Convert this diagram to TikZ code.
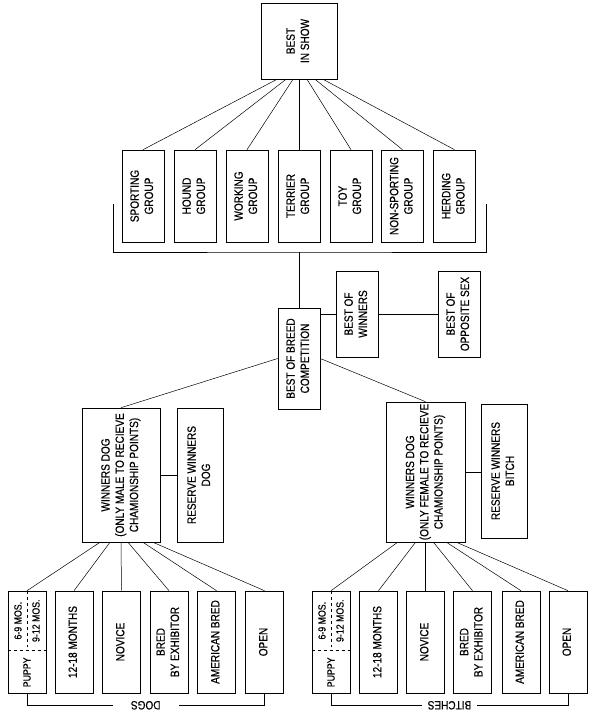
\documentclass[tikz,border=0pt]{standalone}
\usepackage{fontspec}
\setmainfont{Liberation Sans}[FakeStretch=0.84, FakeBold=0.5]
\usepackage{graphicx}
\usepackage{tikz}
\newcommand{\vt}[1]{\rotatebox{90}{\begin{tabular}{@{}c@{}}#1\end{tabular}}}

\begin{document}
\begin{tikzpicture}[x=1bp, y=-1bp,
    box/.style={draw, line width=0.6pt, inner sep=0pt, font=\fontsize{12}{14.3}\selectfont},
    grp/.style={box, minimum width=42bp, minimum height=92bp},
    cls/.style={box, minimum width=38bp, minimum height=102bp},
    sm/.style={inner sep=0pt, rotate=90, font=\fontsize{10.5}{12}\selectfont},
    tag/.style={fill=white, inner ysep=1bp, rotate=180, font=\fontsize{12}{14}\selectfont},
    con/.style={line width=0.5pt}]
\useasboundingbox (0,0) rectangle (595,713);

% top of the show
\node[box, minimum width=76bp, minimum height=76bp] (bis) at (299,41) {\vt{BEST\\IN SHOW}};
\foreach \n/\x/\txt in {spo/143/SPORTING, hou/195/HOUND, wor/247/WORKING, ter/299/TERRIER, toy/351/TOY, non/402.5/NON-SPORTING, her/454.5/HERDING}
  \node[grp] (\n) at (\x,196) {\vt{\txt\\GROUP}};
\foreach \n/\d in {spo/-22, hou/-13, wor/-6, ter/0, toy/8, non/16, her/24}
  \draw[con] ([xshift=\d bp]bis.south) -- (\n.north);

\coordinate (brl) at (113,204);
\coordinate (brr) at (486,204);
\coordinate (brm) at (299,252);
\draw[con] (brl) |- (brm) -| (brr);

% breed level
\node[box, minimum width=42bp, minimum height=101bp] (bob) at (299,358.5) {\vt{BEST OF BREED\\COMPETITION}};
\node[box, minimum width=42bp, minimum height=86bp] (bow) at (357,314) {\vt{BEST OF\\WINNERS}};
\node[box, minimum width=42bp, minimum height=86bp] (bos) at (459,314) {\vt{BEST OF\\OPPOSITE SEX}};
\draw[con] (brm) -- (bob.north);
\draw[con] (bob.east |- bow.west) -- (bow.west);
\draw[con] (bow.east) -- (bos.west);

\node[box, minimum width=78bp, minimum height=134bp] (wdd) at (121,475) {\vt{WINNERS DOG\\(ONLY MALE TO RECIEVE\\CHAMIONSHIP POINTS)}};
\node[box, minimum width=46bp, minimum height=134bp] (rwd) at (200,475) {\vt{RESERVE WINNERS\\DOG}};
\node[box, minimum width=79bp, minimum height=140bp] (wdb) at (425.5,472) {\vt{WINNERS DOG\\(ONLY FEMALE TO RECIEVE\\CHAMIONSHIP POINTS)}};
\node[box, minimum width=46bp, minimum height=134bp] (rwb) at (504,471) {\vt{RESERVE WINNERS\\BITCH}};
\draw[con] (bob.west) -- (wdd.north);
\draw[con] (bob.east) -- (wdb.north);
\draw[con] (wdd.east) -- (rwd.west);
\draw[con] (wdb.east) -- (wdb.east -| rwb.west);

% classes, dogs
\node[cls] (pupd) at (27,642) {};
\node[cls] (m12d) at (74,642) {\vt{12-18 MONTHS}};
\node[cls] (novd) at (121.5,642) {\vt{NOVICE}};
\node[cls] (bred) at (169,642) {\vt{BRED\\BY EXHIBITOR}};
\node[cls] (amd) at (216.5,642) {\vt{AMERICAN BRED}};
\node[cls] (opd) at (264.5,642) {\vt{OPEN}};
\draw[con, dashed] (pupd.north) -- ([yshift=-60bp]pupd.north);
\draw[con, dashed] ([yshift=-60bp]pupd.north west) -- ([yshift=-60bp]pupd.north east);
\node[sm] (pupd69) at ([xshift=-9bp, yshift=-30bp]pupd.north) {6-9 MOS.};
\node[sm] (pupd912) at ([xshift=9bp, yshift=-30bp]pupd.north) {9-12 MOS.};
\node[sm] (pupdp) at ([yshift=21bp]pupd.south) {PUPPY};
\foreach \n/\d in {pupd/-21, m12d/-11, novd/0, bred/7, amd/22, opd/32}
  \draw[con] ([xshift=\d bp]wdd.south) -- (\n.north);
\draw[con] (pupd.south) -- ++(0,12) -| node[tag, pos=0.25, inner xsep=18bp] (dogs) {DOGS} (opd.south);

% classes, bitches
\node[cls] (pupb) at (331,642) {};
\node[cls] (m12b) at (378.5,642) {\vt{12-18 MONTHS}};
\node[cls] (novb) at (425.5,642) {\vt{NOVICE}};
\node[cls] (breb) at (472.5,642) {\vt{BRED\\BY EXHIBITOR}};
\node[cls] (amb) at (521,642) {\vt{AMERICAN BRED}};
\node[cls] (opb) at (568,642) {\vt{OPEN}};
\draw[con, dashed] (pupb.north) -- ([yshift=-60bp]pupb.north);
\draw[con, dashed] ([yshift=-60bp]pupb.north west) -- ([yshift=-60bp]pupb.north east);
\node[sm] (pupb69) at ([xshift=-9bp, yshift=-30bp]pupb.north) {6-9 MOS.};
\node[sm] (pupb912) at ([xshift=9bp, yshift=-30bp]pupb.north) {9-12 MOS.};
\node[sm] (pupbp) at ([yshift=21bp]pupb.south) {PUPPY};
\foreach \n/\d in {pupb/-28, m12b/-10, novb/0, breb/8, amb/21, opb/31}
  \draw[con] ([xshift=\d bp]wdb.south) -- (\n.north);
\draw[con] (pupb.south) -- ++(0,12) -| node[tag, pos=0.25, inner xsep=6bp] (bitches) {BITCHES} (opb.south);
\end{tikzpicture}
\end{document}
